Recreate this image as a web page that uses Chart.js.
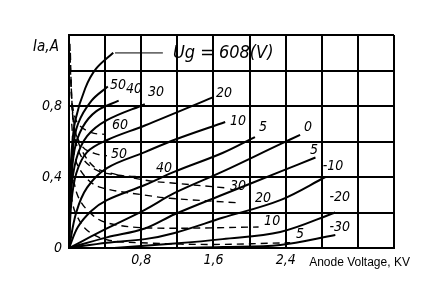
<!DOCTYPE html>
<html><head><meta charset="utf-8">
<script src="https://cdn.jsdelivr.net/npm/chart.js@4/dist/chart.umd.min.js"></script>
<style>html,body{margin:0;padding:0;background:#fff;}canvas{display:block;}</style>
</head><body>
<canvas id="c" width="425" height="287"></canvas>
<script>
// Axis definitions
const xMin = 0, xMax = 3.6, xStep = 0.4;
const yMin = 0, yMax = 1.2, yStep = 0.2;
const xTickLabels = {"0.8": "0,8", "1.6": "1,6", "2.4": "2,4"};
const yTickLabels = {"0": "0", "0.4": "0,4", "0.8": "0,8"};

// Anode current curves (solid), grid voltage Ug in V: [Ua kV, Ia A]
const ia60 = [[0,0],[0.006,0.3],[0.03,0.55],[0.07,0.72],[0.18,0.9],[0.3,1.01],[0.49,1.10]];
const ia50 = [[0,0],[0.01,0.3],[0.04,0.55],[0.1,0.7],[0.25,0.83],[0.43,0.91]];
const ia40 = [[0,0],[0.015,0.3],[0.06,0.55],[0.15,0.68],[0.3,0.77],[0.55,0.83]];
const ia30 = [[0,0],[0.02,0.3],[0.08,0.5],[0.2,0.63],[0.42,0.72],[0.84,0.81]];
const ia20 = [[0,0],[0.025,0.25],[0.08,0.42],[0.2,0.54],[0.43,0.61],[0.84,0.69],[1.6,0.85]];
const ia10 = [[0,0],[0.08,0.2],[0.2,0.34],[0.42,0.45],[0.84,0.54],[1.17,0.61],[1.73,0.71]];
const ia5 = [[0,0],[0.1,0.12],[0.25,0.21],[0.42,0.27],[0.84,0.355],[1.17,0.43],[1.7,0.535],[2.06,0.625]];
const ia0 = [[0,0],[0.42,0.11],[0.84,0.215],[1.17,0.31],[1.7,0.43],[2.34,0.585],[2.56,0.637]];
const iaM5 = [[0,0],[0.42,0.06],[0.84,0.11],[1.17,0.19],[1.7,0.30],[2.34,0.43],[2.73,0.51]];
const iaM10 = [[0,0],[0.42,0.03],[0.84,0.05],[1.17,0.085],[1.7,0.17],[2.34,0.27],[2.84,0.40]];
const iaM20 = [[0.5,0],[1.17,0.025],[1.7,0.05],[2.34,0.09],[2.95,0.20]];
const iaM30 = [[1.2,0],[1.7,0.005],[2.34,0.017],[2.95,0.073]];

// Grid current curves (dashed)
const ig60 = [[0.01,1.15],[0.02,0.95],[0.04,0.8],[0.1,0.7],[0.25,0.65],[0.4,0.64]];
const ig50 = [[0.015,1.1],[0.03,0.85],[0.06,0.68],[0.15,0.57],[0.3,0.53],[0.42,0.52]];
const ig40 = [[0.02,0.95],[0.05,0.7],[0.12,0.53],[0.3,0.44],[0.55,0.41],[0.85,0.40]];
const ig30 = [[0.03,0.8],[0.1,0.6],[0.25,0.47],[0.4,0.43],[0.87,0.38],[1.17,0.365],[1.75,0.338]];
const ig20 = [[0.03,0.7],[0.07,0.5],[0.2,0.39],[0.36,0.34],[0.88,0.295],[1.12,0.28],[1.86,0.255]];
const ig10 = [[0.03,0.45],[0.1,0.29],[0.25,0.19],[0.43,0.14],[0.88,0.113],[2.1,0.118]];
const ig5 = [[0.02,0.3],[0.07,0.2],[0.2,0.1],[0.43,0.045],[0.88,0.028],[1.6,0.02],[2.45,0.03]];

// Leader line for the Ug label
const leader = [[0.51,1.099],[1.04,1.099]];

// Curve labels: text, anchor in data coordinates
const solidLabels = [["50",0.543,0.918],["40",0.72,0.896],["30",0.964,0.879],["20",1.717,0.873],["10",1.873,0.716],["5",2.15,0.68],["0",2.648,0.68],["5",2.715,0.552],["-10",2.925,0.462],["-20",3.0,0.287],["-30",3.0,0.118]];
const dashedLabels = [["60",0.565,0.693],["50",0.554,0.53],["40",1.053,0.451],["30",1.873,0.349],["20",2.15,0.282],["10",2.25,0.152],["5",2.56,0.079]];

const LABEL_FONT = "italic 14px 'Liberation Sans Narrow', 'DejaVu Sans Condensed', sans-serif";

function pts(a){ return a.map(p => ({x:p[0], y:p[1]})); }
function solid(a){ return {data: pts(a), borderColor:'#000', borderWidth:2, showLine:true, pointRadius:0, tension:0.35, fill:false}; }
function dashed(a){ return {data: pts(a), borderColor:'#000', borderWidth:1.4, borderDash:[7,5], showLine:true, pointRadius:0, tension:0.35, fill:false}; }

const datasets = [ia60,ia50,ia40,ia30,ia20,ia10,ia5,ia0,iaM5,iaM10,iaM20,iaM30].map(solid)
  .concat([ig60,ig50,ig40,ig30,ig20,ig10,ig5].map(dashed))
  .concat([{data: pts(leader), borderColor:'#000', borderWidth:1, showLine:true, pointRadius:0, fill:false, clip:false}]);

function near(v, key){ return Math.abs(v - parseFloat(key)) < 1e-6; }

const textPlugin = {
  id: 'texts',
  afterDatasetsDraw(chart){
    const ctx = chart.ctx, xs = chart.scales.x, ys = chart.scales.y;
    ctx.save();
    ctx.fillStyle = '#000';
    ctx.textAlign = 'center'; ctx.textBaseline = 'middle';
    ctx.font = LABEL_FONT;
    solidLabels.concat(dashedLabels).forEach(l => {
      const px = xs.getPixelForValue(l[1]), py = ys.getPixelForValue(l[2]);
      ctx.fillStyle = '#fff';
      const w = ctx.measureText(l[0]).width;
      ctx.fillStyle = '#000';
      ctx.fillText(l[0], px, py);
    });
    // Ug label
    const lx = xs.getPixelForValue(1.04) + 10, ly = ys.getPixelForValue(1.099);
    ctx.textAlign = 'left';
    ctx.font = "italic 18px 'Liberation Sans Narrow', 'DejaVu Sans Condensed', sans-serif";
    ctx.fillText('Ug = 608(V)', lx, ly);
    // axis titles
    ctx.font = "italic 15px 'Liberation Sans Narrow', 'DejaVu Sans Condensed', sans-serif";
    ctx.textAlign = 'center';
    ctx.fillText('Ia,A', chart.chartArea.left - 23, chart.chartArea.top + 12);
    ctx.font = "12px 'Liberation Sans', Arial, sans-serif";
    ctx.textAlign = 'left';
    ctx.fillText('Anode Voltage, KV', xs.getPixelForValue(2.66), chart.chartArea.bottom + 15);
    ctx.restore();
  }
};

new Chart(document.getElementById('c'), {
  type: 'scatter',
  data: { datasets },
  options: {
    responsive: false, animation: false, devicePixelRatio: 1,
    layout: { padding: { top: 35, right: 31, left: 0, bottom: 0 } },
    plugins: { legend: {display:false}, tooltip: {enabled:false} },
    scales: {
      x: {
        type:'linear', min:xMin, max:xMax,
        afterFit(s){ s.height = 39; },
        ticks: { stepSize:xStep, autoSkip:false, maxRotation:0, padding:4, color:'#000',
          font:{family:"'Liberation Sans Narrow', 'DejaVu Sans Condensed', sans-serif", style:'italic', size:14},
          callback(v){ for (const k in xTickLabels) if (near(v,k)) return xTickLabels[k]; return ''; } },
        grid: { color:'#000', lineWidth:2, drawTicks:false },
        border: { display:true, color:'#000', width:2 }
      },
      y: {
        type:'linear', min:yMin, max:yMax,
        afterFit(s){ s.width = 69; },
        ticks: { stepSize:yStep, autoSkip:false, padding:7, color:'#000',
          font:{family:"'Liberation Sans Narrow', 'DejaVu Sans Condensed', sans-serif", style:'italic', size:14},
          callback(v){ for (const k in yTickLabels) if (near(v,k)) return yTickLabels[k]; return ''; } },
        grid: { color:'#000', lineWidth:2, drawTicks:false },
        border: { display:true, color:'#000', width:2 }
      }
    }
  },
  plugins: [textPlugin]
});
</script>
</body></html>
